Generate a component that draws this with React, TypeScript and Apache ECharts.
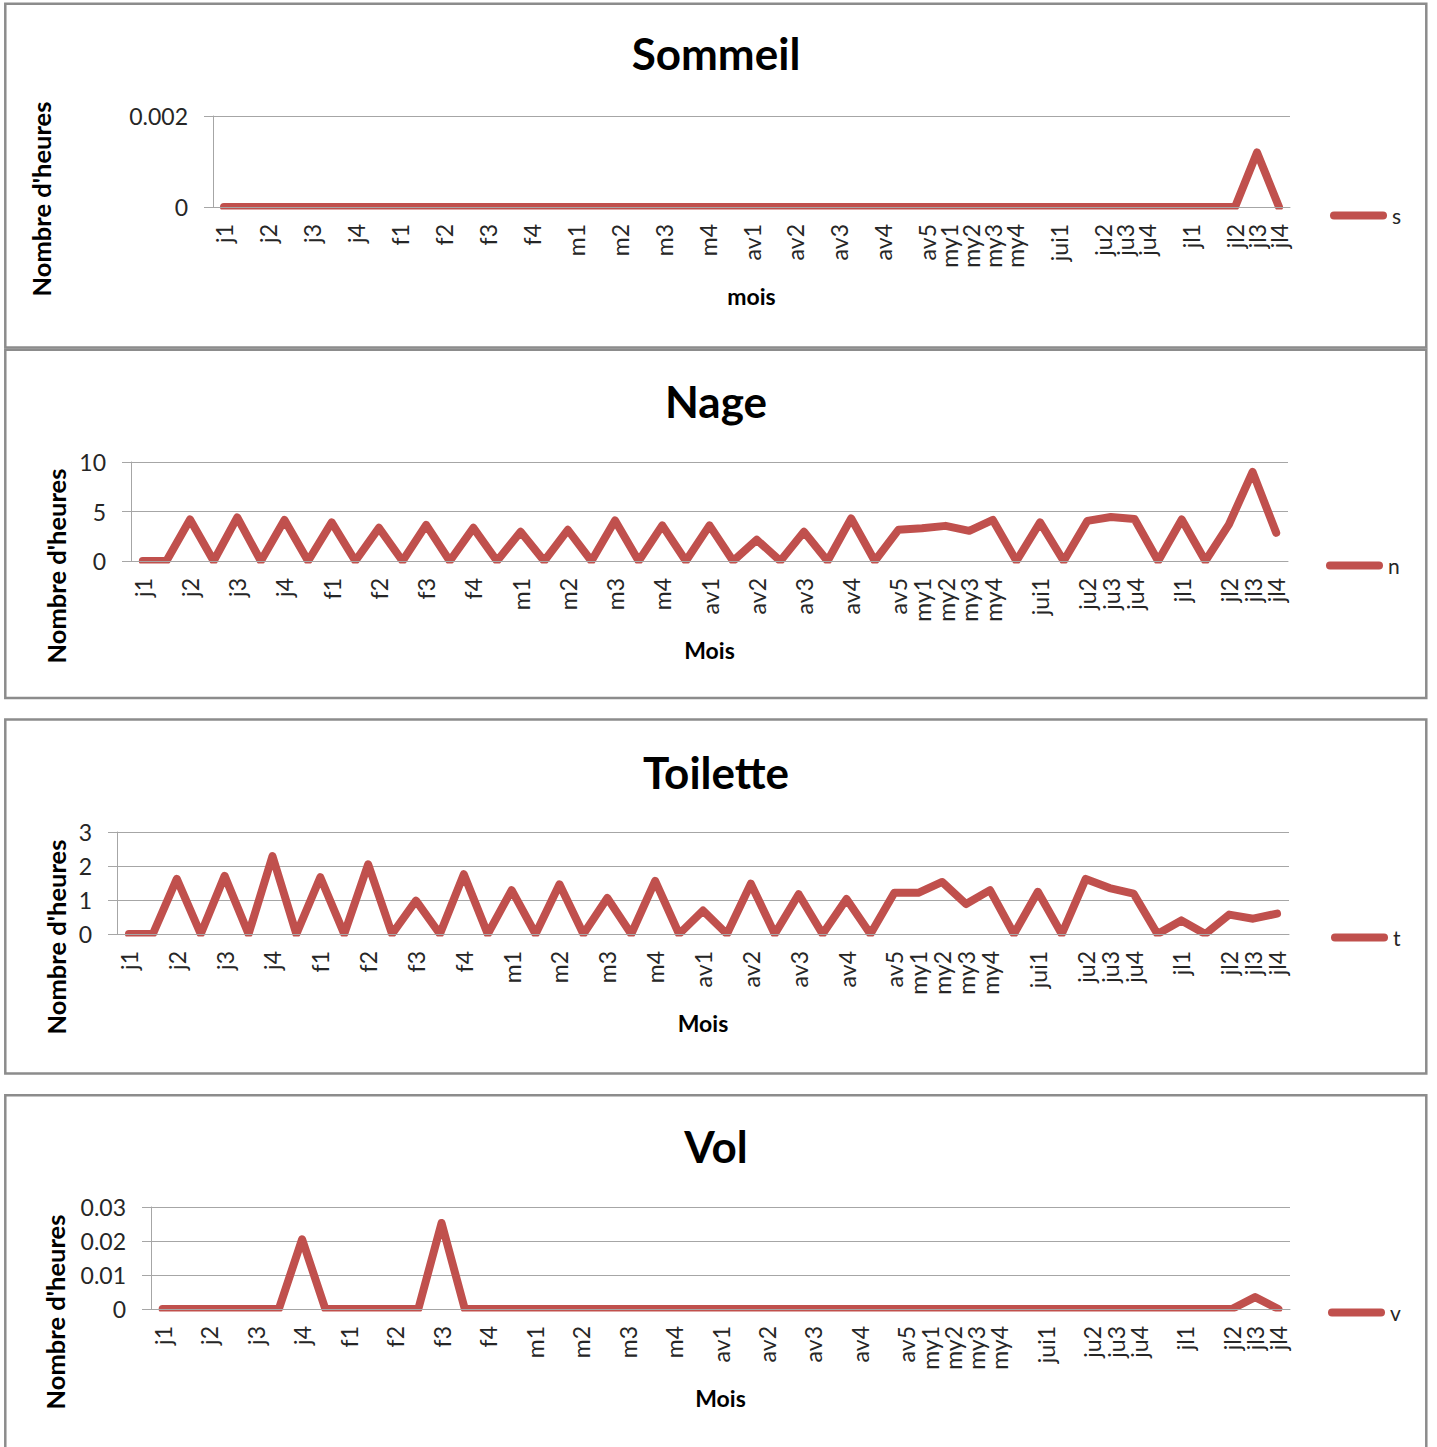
import React, { useEffect, useRef } from 'react';
import * as echarts from 'echarts';

// ---------- data ----------
const categories = [
  'j1', '', 'j2', '', 'j3', '', 'j4', '',
  'f1', '', 'f2', '', 'f3', '', 'f4', '',
  'm1', '', 'm2', '', 'm3', '', 'm4', '',
  'av1', '', 'av2', '', 'av3', '', 'av4', '',
  'av5', 'my1', 'my2', 'my3', 'my4', '',
  'jui1', '', 'ju2', 'ju3', 'ju4', '',
  'jl1', '', 'jl2', 'jl3', 'jl4',
];

const sommeilValues = [
  0, 0, 0, 0, 0, 0, 0, 0,
  0, 0, 0, 0, 0, 0, 0, 0,
  0, 0, 0, 0, 0, 0, 0, 0,
  0, 0, 0, 0, 0, 0, 0, 0,
  0, 0, 0, 0, 0, 0,
  0, 0, 0, 0, 0, 0,
  0, 0, 0, 0.0012, 0,
];

const nageValues = [
  0, 0, 4.2, 0, 4.4, 0, 4.15, 0,
  3.9, 0, 3.35, 0, 3.65, 0, 3.35, 0,
  2.95, 0, 3.15, 0, 4.1, 0, 3.6, 0,
  3.6, 0, 2.15, 0, 2.95, 0, 4.3, 0,
  3.15, 3.3, 3.55, 3.05, 4.15, 0,
  3.9, 0, 4.05, 4.45, 4.25, 0,
  4.2, 0, 3.7, 9.0, 2.85,
];

const toiletteValues = [
  0, 0, 1.62, 0, 1.71, 0, 2.29, 0,
  1.67, 0, 2.05, 0, 0.98, 0, 1.76, 0,
  1.29, 0, 1.46, 0, 1.06, 0, 1.56, 0,
  0.69, 0, 1.48, 0, 1.17, 0, 1.03, 0,
  1.21, 1.21, 1.53, 0.88, 1.29, 0,
  1.24, 0, 1.62, 1.35, 1.19, 0,
  0.4, 0, 0.57, 0.45, 0.6,
];

const volValues = [
  0, 0, 0, 0, 0, 0, 0.0205, 0,
  0, 0, 0, 0, 0.0253, 0, 0, 0,
  0, 0, 0, 0, 0, 0, 0, 0,
  0, 0, 0, 0, 0, 0, 0, 0,
  0, 0, 0, 0, 0, 0,
  0, 0, 0, 0, 0, 0,
  0, 0, 0, 0.0035, 0,
];

const chartTitles = ['Sommeil', 'Nage', 'Toilette', 'Vol'];
const seriesNames = ['s', 'n', 't', 'v'];
const xAxisTitles = ['mois', 'Mois', 'Mois', 'Mois'];
const yAxisTitle = "Nombre d'heures";
const yMax = [0.002, 10, 3, 0.03];
const yInterval = [0.002, 5, 1, 0.01];
const seriesData = [sommeilValues, nageValues, toiletteValues, volValues];

// ---------- layout / style ----------
const FONT = 'Lato, "Open Sans", sans-serif';
const RED = '#C0504D';
const GRAY = '#A6A6A6';
const TEXT = '#262626';
const BORDER = '#8C8C8C';
const AXIS_OFFSET = 2;

const layouts = [
  { box: [5.3, 3.8, 1421, 343.7], titleY: 53, grid: { left: 213, right: 1290, top: 116, bottom: 207 }, yTitle: [41, 199], legend: [1330, 216] },
  { box: [5.3, 349.8, 1421, 348.2], titleY: 401, grid: { left: 131, right: 1288, top: 462, bottom: 561 }, yTitle: [56, 566], legend: [1326, 566] },
  { box: [5.3, 719.5, 1421, 354], titleY: 772, grid: { left: 117, right: 1289, top: 832, bottom: 934 }, yTitle: [56, 937], legend: [1331, 938] },
  { box: [5.3, 1095.3, 1421, 370], titleY: 1146, grid: { left: 151, right: 1290, top: 1207, bottom: 1309 }, yTitle: [55, 1312], legend: [1328, 1313] },
];

const LEGEND_ICON = 'path://M4,0 H53 A4,4 0 0 1 53,8 H4 A4,4 0 0 1 4,0 Z';

function buildOption(): any {
  const graphicElements: any[] = [];
  layouts.forEach((l, i) => {
    graphicElements.push({
      type: 'rect', silent: true, z: 1,
      shape: { x: l.box[0], y: l.box[1], width: l.box[2], height: l.box[3] },
      style: { fill: 'rgba(0,0,0,0)', stroke: BORDER, lineWidth: 2.5 },
    });
    graphicElements.push({
      type: 'text', silent: true, z: 20, x: 716, y: l.titleY,
      style: {
        text: chartTitles[i], fontSize: 44, fontWeight: 'bold', fontFamily: FONT, fill: '#000',
        textAlign: 'center', align: 'center', textVerticalAlign: 'middle', verticalAlign: 'middle',
      },
    });
    graphicElements.push({
      type: 'text', silent: true, z: 20, x: l.yTitle[0], y: l.yTitle[1], rotation: Math.PI / 2,
      style: {
        text: yAxisTitle, fontSize: 25.5, fontWeight: 'bold', fontFamily: FONT, fill: '#000',
        textAlign: 'center', align: 'center', textVerticalAlign: 'middle', verticalAlign: 'middle',
      },
    });
    // plot-area clipping band (Excel clips the line at the plot area edge)
    graphicElements.push({
      type: 'rect', silent: true, z: 5,
      shape: { x: l.grid.left + 1, y: l.grid.bottom + AXIS_OFFSET + 0.5, width: l.grid.right - l.grid.left, height: 5 },
      style: { fill: '#ffffff' },
    });
  });

  return {
    animation: false,
    backgroundColor: '#ffffff',
    color: [RED],
    textStyle: { fontFamily: FONT },
    grid: layouts.map((l) => ({
      left: l.grid.left,
      top: l.grid.top,
      width: l.grid.right - l.grid.left,
      height: l.grid.bottom - l.grid.top,
      containLabel: false,
      outerBoundsMode: 'none',
    })),
    xAxis: layouts.map((l, i) => ({
      type: 'category',
      gridIndex: i,
      data: categories,
      boundaryGap: true,
      offset: AXIS_OFFSET,
      z: 10,
      axisLine: { show: true, lineStyle: { color: GRAY, width: 1 } },
      axisTick: { show: false },
      splitLine: { show: false },
      axisLabel: { interval: 0, rotate: 90, margin: 15, fontSize: 23, fontFamily: FONT, color: TEXT },
      name: xAxisTitles[i],
      nameLocation: 'middle',
      nameGap: 75,
      nameTextStyle: { fontSize: 23, fontWeight: 'bold', fontFamily: FONT, color: '#000' },
    })),
    yAxis: layouts.map((l, i) => ({
      type: 'value',
      gridIndex: i,
      min: 0,
      max: yMax[i],
      interval: yInterval[i],
      axisLine: { show: true, lineStyle: { color: GRAY, width: 1 } },
      axisTick: { show: true, length: 9, lineStyle: { color: GRAY } },
      splitLine: { show: true, lineStyle: { color: GRAY, width: 1 } },
      axisLabel: { margin: 25, fontSize: 23, fontFamily: FONT, color: TEXT },
    })),
    legend: layouts.map((l, i) => ({
      data: [seriesNames[i]],
      left: l.legend[0],
      top: l.legend[1] - 11,
      orient: 'horizontal',
      padding: 0,
      itemGap: 0,
      itemWidth: 57,
      itemHeight: 8,
      icon: LEGEND_ICON,
      selectedMode: false,
      textStyle: { fontSize: 21, fontFamily: FONT, color: TEXT },
    })),
    series: seriesData.map((d, i) => ({
      type: 'line',
      name: seriesNames[i],
      xAxisIndex: i,
      yAxisIndex: i,
      data: d,
      symbol: 'none',
      showSymbol: false,
      z: 2,
      color: RED,
      itemStyle: { color: RED },
      lineStyle: { color: RED, width: 8, cap: 'round', join: 'round' },
    })),
    graphic: { elements: graphicElements },
  };
}

export default function App() {
  const ref = useRef<HTMLDivElement>(null);
  useEffect(() => {
    if (!ref.current) return;
    const chart = echarts.init(ref.current, undefined, { renderer: 'svg' });
    chart.setOption(buildOption());
    return () => chart.dispose();
  }, []);
  return (
    <div
      ref={ref}
      style={{ position: 'absolute', left: 0, top: 0, width: 1437, height: 1447, background: '#fff' }}
    />
  );
}
